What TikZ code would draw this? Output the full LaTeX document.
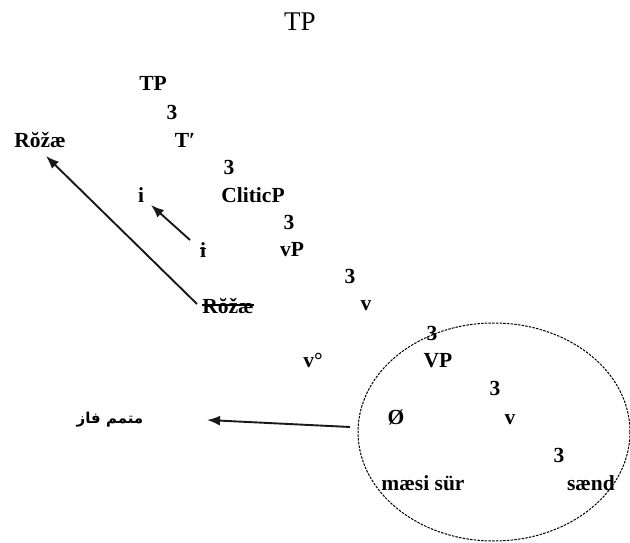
\documentclass[tikz,border=0pt]{standalone}
\usepackage{fontspec}
\usetikzlibrary{arrows.meta}
\setmainfont{Liberation Serif}
\newfontfamily\arabicfont[Script=Arabic]{DejaVu Sans}
\TeXXeTstate=1
\begin{document}
\begin{tikzpicture}[x=1pt,y=-1pt,
  lab/.style={font=\fontsize{21.5}{21.5}\selectfont\bfseries, inner sep=0pt, anchor=center},
  num/.style={lab},
  arr/.style={-{Latex[length=13pt,width=10pt]}, line width=1.9pt, black!90},
  strike/.style={line width=1.2pt}]
\useasboundingbox (0,0) rectangle (630,543);
% title
\node[font=\fontsize{27}{27}\selectfont, inner sep=0pt] (title) at (300,22) {TP};
% tree
\node[lab] (tp) at (153,83) {TP};
\node[num] (n1) at (172,112) {3};
\node[lab] (rz) at (40,140) {Rŏžæ};
\node[lab] (tbar) at (185,140) {T′};
\node[num] (n2) at (229,167) {3};
\node[lab] (i1) at (141,195) {i};
\node[lab] (clp) at (253,195) {CliticP};
\node[num] (n3) at (289,222) {3};
\node[lab] (i2) at (203,250) {i};
\node[lab] (vp) at (292,250) {vP};
\node[num] (n4) at (350,276) {3};
\node[lab] (rz2) at (228,306) {Rŏžæ};
\node[lab] (vbar) at (366,306) {v};
\node[num] (n5) at (432,333) {3};
\node[lab] (v0) at (313,360) {v°};
\node[lab] (VP) at (438,361) {VP};
\node[num] (n6) at (495,388) {3};
\node[lab] (empty) at (396,417) {Ø};
\node[lab] (vv) at (510,420) {v};
\node[num] (n7) at (559,455) {3};
\node[lab] (ms) at (423,483) {mæsi sür};
\node[lab] (snd) at (591,483) {sænd};
\node[font=\arabicfont\bfseries\fontsize{15}{15}\selectfont, inner sep=0pt] (ph) at (110,420) {\beginR متمم فاز\endR};
% strike-throughs
\draw[strike] ([yshift=1.5pt]i2.west) -- ([yshift=1.5pt]i2.east);
\draw[strike] ([yshift=1pt]rz2.west) -- ([yshift=1pt]rz2.east);
% movement arrows
\coordinate (a1) at (197,304);
\coordinate (a1e) at (46,156);
\coordinate (a2) at (190,240);
\coordinate (a2e) at (151,205);
\coordinate (a3) at (350,427);
\coordinate (a3e) at (207,420);
\draw[arr] (a1) -- (a1e);
\draw[arr] (a2) -- (a2e);
\draw[arr] (a3) -- (a3e);
% dashed ellipse
\draw[line width=1pt, dash pattern=on 2.5pt off 1.2pt] (494,432) ellipse [x radius=136, y radius=109];
\end{tikzpicture}
\end{document}
